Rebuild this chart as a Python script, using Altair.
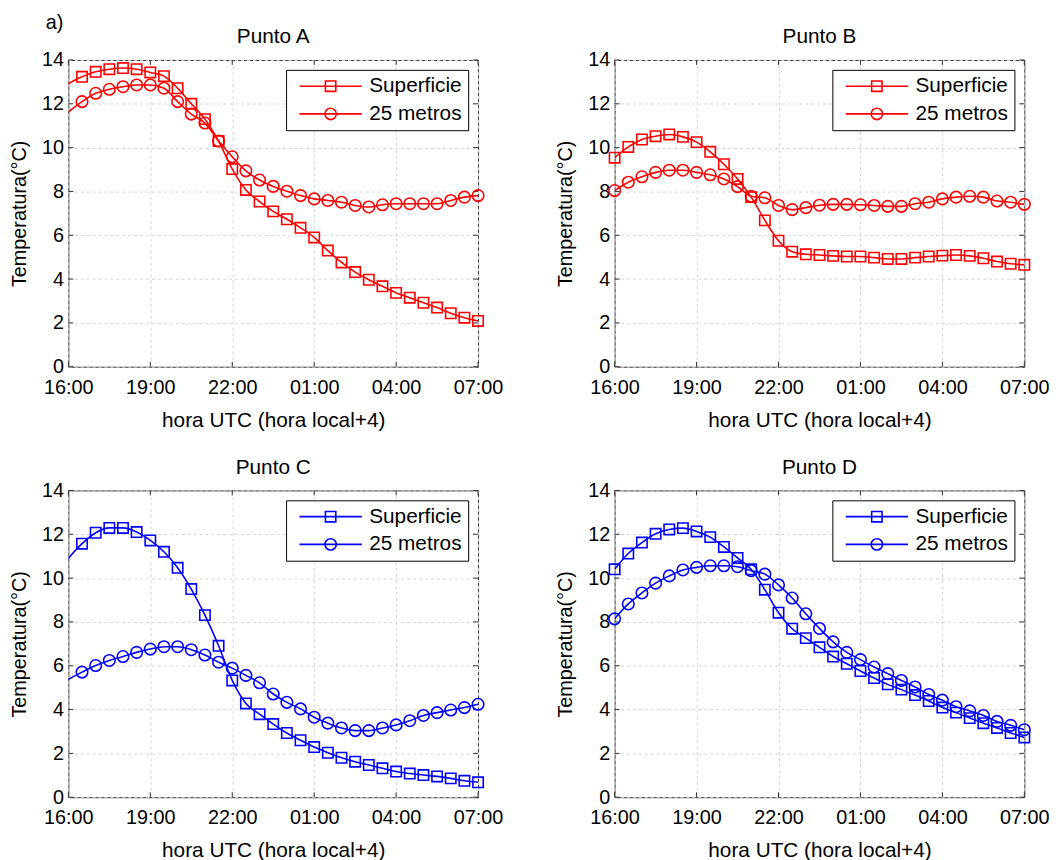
import json
import altair as alt
import pandas as pd

FONT = "Liberation Sans"
RED = "#ff0000"
BLUE = "#0000ff"
AXC = "#333333"

SERIES = ["Superficie", "25 metros"]
XTICKS = [0, 3, 6, 9, 12, 15]
XLABELS = ["16:00", "19:00", "22:00", "01:00", "04:00", "07:00"]
YTICKS = [0, 2, 4, 6, 8, 10, 12, 14]

# hours after 16:00 (A and C start with a point before 16:00, clipped by the axis)
HOURS_AC = [-0.5, 0.5, 1.0, 1.5, 2.0, 2.5, 3.0, 3.5, 4.0, 4.5, 5.0, 5.5, 6.0, 6.5, 7.0, 7.5,
            8.0, 8.5, 9.0, 9.5, 10.0, 10.5, 11.0, 11.5, 12.0, 12.5, 13.0, 13.5, 14.0, 14.5, 15.0]
HOURS_BD = [0.0, 0.5, 1.0, 1.5, 2.0, 2.5, 3.0, 3.5, 4.0, 4.5, 5.0, 5.5, 6.0, 6.5, 7.0, 7.5,
            8.0, 8.5, 9.0, 9.5, 10.0, 10.5, 11.0, 11.5, 12.0, 12.5, 13.0, 13.5, 14.0, 14.5, 15.0]

A_SUP = [12.57, 13.23, 13.46, 13.58, 13.63, 13.58, 13.43, 13.26, 12.71, 12.0, 11.3, 10.3, 9.02, 8.07,
         7.54, 7.09, 6.73, 6.34, 5.9, 5.3, 4.76, 4.32, 3.97, 3.67, 3.37, 3.15, 2.92, 2.7, 2.44, 2.24, 2.09]
A_25 = [11.1, 12.1, 12.48, 12.66, 12.78, 12.86, 12.86, 12.71, 12.1, 11.53, 11.12, 10.3, 9.58, 8.94,
        8.52, 8.23, 8.01, 7.81, 7.66, 7.59, 7.51, 7.36, 7.29, 7.39, 7.44, 7.44, 7.44, 7.44, 7.59, 7.74, 7.81]
B_SUP = [9.54, 10.03, 10.37, 10.52, 10.6, 10.49, 10.25, 9.81, 9.24, 8.57, 7.74, 6.68, 5.75, 5.25, 5.13,
         5.1, 5.06, 5.03, 5.03, 4.98, 4.92, 4.92, 4.98, 5.03, 5.07, 5.1, 5.06, 4.95, 4.8, 4.7, 4.65]
B_25 = [8.04, 8.42, 8.67, 8.87, 8.97, 8.97, 8.87, 8.76, 8.57, 8.22, 7.78, 7.71, 7.36, 7.17, 7.26,
        7.37, 7.41, 7.41, 7.39, 7.36, 7.32, 7.32, 7.44, 7.51, 7.66, 7.74, 7.78, 7.74, 7.56, 7.51, 7.41]
C_SUP = [10.13, 11.57, 12.07, 12.29, 12.29, 12.1, 11.72, 11.2, 10.47, 9.5, 8.31, 6.91, 5.33, 4.28,
         3.79, 3.34, 2.93, 2.6, 2.29, 2.03, 1.8, 1.62, 1.47, 1.32, 1.17, 1.08, 1.01, 0.95, 0.86, 0.75, 0.68]
C_25 = [5.03, 5.71, 6.01, 6.24, 6.42, 6.61, 6.76, 6.87, 6.87, 6.73, 6.49, 6.16, 5.89, 5.56, 5.22,
        4.71, 4.33, 4.03, 3.65, 3.38, 3.16, 3.04, 3.04, 3.16, 3.3, 3.49, 3.73, 3.86, 3.98, 4.09, 4.24]
D_SUP = [10.4, 11.12, 11.62, 12.02, 12.22, 12.28, 12.13, 11.87, 11.42, 10.92, 10.4, 9.47, 8.42, 7.69,
         7.26, 6.84, 6.42, 6.09, 5.76, 5.44, 5.15, 4.91, 4.66, 4.39, 4.09, 3.86, 3.61, 3.38, 3.16, 2.93, 2.73]
D_25 = [8.14, 8.82, 9.32, 9.77, 10.1, 10.37, 10.49, 10.56, 10.56, 10.52, 10.34, 10.18, 9.69, 9.09,
        8.37, 7.7, 7.09, 6.61, 6.28, 5.94, 5.64, 5.33, 5.03, 4.69, 4.43, 4.13, 3.94, 3.73, 3.46, 3.28, 3.08]

W, H = 414, 310
TICK = 5

# legend symbols: line with marker (custom paths, unit = sqrt(symbolSize)/2 px)
PATH_SQ = "M-1,0H9.5M3.375,-0.875H5.125V0.875H3.375Z"
PATH_CI = "M-1,0H9.5M5.21,0A0.96,0.96 0 1,1 3.29,0A0.96,0.96 0 1,1 5.21,0"

label_expr = json.dumps(XLABELS) + "[round(datum.value / 3)]"


def panel(title, hours, sup, m25, color):
    n = len(hours)
    df = pd.DataFrame({
        "t": hours + hours,
        "v": sup + m25,
        "serie": [SERIES[0]] * n + [SERIES[1]] * n,
    })
    x_enc = alt.X("t:Q", scale=alt.Scale(domain=[0, 15], nice=False, zero=False),
                  axis=alt.Axis(values=XTICKS, labelExpr=label_expr, title="hora UTC (hora local+4)",
                                labelFlush=False, labelOverlap=False))
    y_enc = alt.Y("v:Q", scale=alt.Scale(domain=[0, 14], nice=False),
                  axis=alt.Axis(values=YTICKS, title="Temperatura(°C)", labelFlush=False,
                                labelOverlap=False))
    base = alt.Chart(df)
    line = base.mark_line(color=color, strokeWidth=1.6, clip=True, interpolate="monotone").encode(
        x=x_enc, y=y_enc, detail="serie:N")
    pts = base.transform_filter("datum.t >= 0").mark_point(
        filled=False, color=color, strokeWidth=1.6, opacity=1).encode(
        x=x_enc, y=y_enc,
        shape=alt.Shape("serie:N", scale=alt.Scale(domain=SERIES, range=["square", "circle"]), legend=None),
        size=alt.Size("serie:N", scale=alt.Scale(domain=SERIES, range=[110, 135]), legend=None),
    )
    leg = base.transform_filter("false").mark_point(filled=False, color=color, strokeWidth=1.6).encode(
        x=x_enc, y=y_enc,
        shape=alt.Shape("serie:N", scale=alt.Scale(domain=SERIES, range=[PATH_SQ, PATH_CI]),
                        legend=alt.Legend(title=None, orient="top-right", offset=10, padding=6,
                                          strokeColor="black", fillColor="white", labelFontSize=21,
                                          labelFont=FONT, labelColor="black", symbolSize=144,
                                          symbolOffset=3, labelOffset=54, rowPadding=6,
                                          symbolStrokeWidth=1.6, symbolStrokeColor=color,
                                          symbolFillColor="transparent", symbolOpacity=1,
                                          cornerRadius=0, labelLimit=0)),
    )
    xt = pd.DataFrame({"t": XTICKS})
    yt = pd.DataFrame({"v": YTICKS})
    tick_b = alt.Chart(xt).mark_rule(color=AXC, strokeWidth=1).encode(
        x=x_enc, y=alt.value(H), y2=alt.value(H - TICK))
    tick_t = alt.Chart(xt).mark_rule(color=AXC, strokeWidth=1).encode(
        x=x_enc, y=alt.value(0), y2=alt.value(TICK))
    tick_l = alt.Chart(yt).mark_rule(color=AXC, strokeWidth=1).encode(
        y=y_enc, x=alt.value(0), x2=alt.value(TICK))
    tick_r = alt.Chart(yt).mark_rule(color=AXC, strokeWidth=1).encode(
        y=y_enc, x=alt.value(W - TICK), x2=alt.value(W))
    return alt.layer(tick_b, tick_t, tick_l, tick_r, line, pts, leg).resolve_scale(
        shape="independent").properties(
        width=W, height=H, title=alt.TitleParams(title, offset=3, fontSize=21))


pA = panel("Punto A", HOURS_AC, A_SUP, A_25, RED)
pB = panel("Punto B", HOURS_BD, B_SUP, B_25, RED)
pC = panel("Punto C", HOURS_AC, C_SUP, C_25, BLUE)
pD = panel("Punto D", HOURS_BD, D_SUP, D_25, BLUE)

row1 = alt.hconcat(pA, pB, spacing=52)
row2 = alt.hconcat(pC, pD, spacing=52)

chart = alt.vconcat(row1, row2, spacing=25).properties(
    title=alt.TitleParams("a)", anchor="start", dx=37, offset=-7, fontSize=20, fontWeight="normal"),
    padding={"left": 1, "top": 0, "right": 5, "bottom": 0},
).configure(font=FONT).configure_axis(
    labelFontSize=20, titleFontSize=20, titleFontWeight="normal", labelColor="black",
    titleColor="black", labelFont=FONT, titleFont=FONT, domain=False, ticks=False, tickSize=0,
    gridColor="#d4d4d4", gridDash=[3, 3], gridWidth=1,
).configure_axisX(labelPadding=11, titlePadding=12, titleFontSize=21).configure_axisY(
    labelPadding=5, titlePadding=12).configure_view(stroke=AXC, strokeWidth=1).configure_title(
    fontSize=20, fontWeight="normal", color="black", font=FONT)

chart.save("out.html", embed_options={"renderer": "svg", "actions": False})
